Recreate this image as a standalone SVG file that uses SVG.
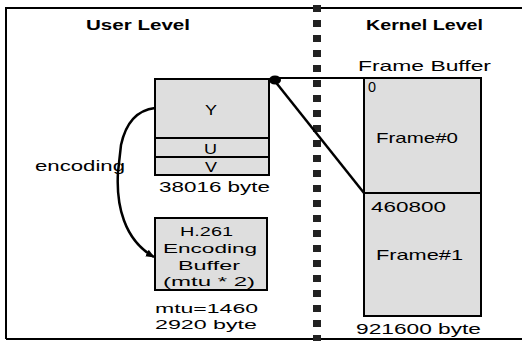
<svg xmlns="http://www.w3.org/2000/svg" width="522" height="341" viewBox="0 0 522 341">
<defs>
<style>
.t{font-family:"Liberation Sans",Arial,sans-serif;font-size:15px;fill:#000}
.s{font-size:13.5px}
.b{font-weight:bold}
.box{fill:#dedede;stroke:#000;stroke-width:2}
.ln{fill:none;stroke:#000}
</style>
<marker id="ah" viewBox="0 0 10 10" refX="9" refY="5" markerWidth="9" markerHeight="9" markerUnits="userSpaceOnUse" orient="auto">
<path d="M0,1 L10,5 L0,9 Z" fill="#000"/>
</marker>
</defs>
<rect width="522" height="341" fill="#fff"/>
<g id="frame">
<line x1="6" y1="8" x2="522" y2="8" stroke="#000" stroke-width="2"/>
<line x1="6" y1="7" x2="6" y2="339" stroke="#000" stroke-width="2"/>
<line x1="6" y1="339" x2="522" y2="339" stroke="#000" stroke-width="2"/>
<line x1="317" y1="5" x2="317" y2="341" stroke="#222" stroke-width="8" stroke-dasharray="7 8"/>
</g>
<g id="titles">
<text class="t b" x="86" y="30" textLength="104" lengthAdjust="spacingAndGlyphs">User Level</text>
<text class="t b" x="366" y="30" textLength="117" lengthAdjust="spacingAndGlyphs">Kernel Level</text>
<text class="t" x="358" y="71" textLength="133" lengthAdjust="spacingAndGlyphs">Frame Buffer</text>
</g>
<g id="yuv">
<rect class="box" x="155" y="79" width="114" height="96"/>
<line class="ln" x1="155" y1="138" x2="269" y2="138" stroke-width="2"/>
<line class="ln" x1="155" y1="157" x2="269" y2="157" stroke-width="2"/>
<text class="t" x="205" y="115" textLength="12" lengthAdjust="spacingAndGlyphs">Y</text>
<text class="t" x="204" y="154" textLength="13" lengthAdjust="spacingAndGlyphs">U</text>
<text class="t" x="205" y="172" textLength="12" lengthAdjust="spacingAndGlyphs">V</text>
<text class="t" x="159" y="192" textLength="111" lengthAdjust="spacingAndGlyphs">38016 byte</text>
</g>
<g id="h261">
<rect class="box" x="155" y="218" width="112" height="72"/>
<text class="t s" x="180" y="236" textLength="53" lengthAdjust="spacingAndGlyphs">H.261</text>
<text class="t s" x="163" y="253" textLength="94" lengthAdjust="spacingAndGlyphs">Encoding</text>
<text class="t s" x="178" y="270" textLength="62" lengthAdjust="spacingAndGlyphs">Buffer</text>
<text class="t s" x="163" y="286" textLength="92" lengthAdjust="spacingAndGlyphs">(mtu * 2)</text>
<text class="t s" x="155" y="313" textLength="103" lengthAdjust="spacingAndGlyphs">mtu=1460</text>
<text class="t s" x="155" y="329" textLength="102" lengthAdjust="spacingAndGlyphs">2920 byte</text>
</g>
<g id="framebuffer">
<rect class="box" x="364" y="78" width="117" height="238"/>
<line class="ln" x1="364" y1="193" x2="481" y2="193" stroke-width="2"/>
<text class="t" x="368" y="92" textLength="8" lengthAdjust="spacingAndGlyphs">0</text>
<text class="t" x="376" y="143" textLength="82" lengthAdjust="spacingAndGlyphs">Frame#0</text>
<text class="t" x="371" y="212" textLength="75" lengthAdjust="spacingAndGlyphs">460800</text>
<text class="t" x="376" y="260" textLength="87" lengthAdjust="spacingAndGlyphs">Frame#1</text>
<text class="t" x="356" y="334" textLength="125" lengthAdjust="spacingAndGlyphs">921600 byte</text>
</g>
<g id="connectors">
<line class="ln" x1="274" y1="78" x2="364" y2="78" stroke-width="2"/>
<line class="ln" x1="274" y1="80" x2="364" y2="193" stroke-width="2.5"/>
<ellipse cx="275" cy="80" rx="6" ry="4.5" fill="#000"/>
<path class="ln" d="M155,108 C138,110 126,122 121,145 L118,172 C116,205 124,240 154,257" stroke-width="2.5" marker-end="url(#ah)"/>
<text class="t" x="35" y="171" textLength="90" lengthAdjust="spacingAndGlyphs">encoding</text>
</g>
</svg>
